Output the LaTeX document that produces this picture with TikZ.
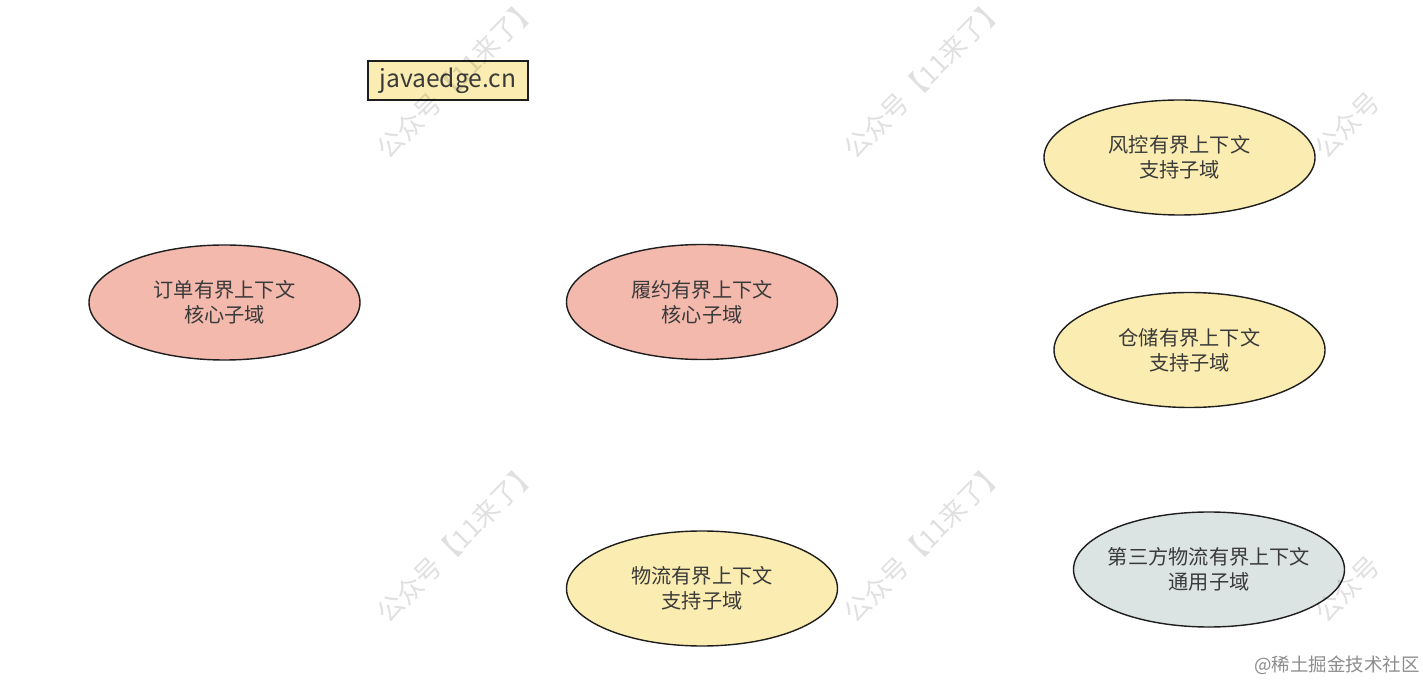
\documentclass[tikz,border=0pt]{standalone}
\usepackage{fontspec}
\setmainfont{Noto Sans CJK SC}
\usetikzlibrary{shapes.geometric}
\definecolor{corefill}{HTML}{F3B9AD}
\definecolor{supportfill}{HTML}{FBEDB1}
\definecolor{genericfill}{HTML}{DCE3E3}
\definecolor{edgeline}{HTML}{1E1E1E}
\definecolor{labeltext}{HTML}{3A3A3A}
\tikzset{
  subdomain/.style={ellipse, draw=edgeline, line width=0.8pt,
    minimum width=5.42cm, minimum height=2.3cm, inner ysep=0pt, inner xsep=-0.3cm,
    align=center, text=labeltext, font=\fontsize{11.5}{14}\selectfont},
  coredomain/.style={subdomain, fill=corefill},
  supportdomain/.style={subdomain, fill=supportfill},
  genericdomain/.style={subdomain, fill=genericfill},
  sitebox/.style={draw=edgeline, line width=0.8pt, fill=supportfill,
    minimum width=3.2cm, minimum height=0.78cm, inner sep=0pt,
    text=labeltext, font=\fontsize{14}{16}\selectfont},
  watermark/.style={rotate=45, text=black, opacity=0.12,
    font=\fontsize{15}{15}\selectfont},
  footmark/.style={text=black!45, font=\fontsize{10.5}{12}\selectfont}
}

\begin{document}
\begin{tikzpicture}
  \useasboundingbox (0,0) rectangle (28.46,13.68);
  \clip (0,0) rectangle (28.46,13.68);

  \node[sitebox] (site) at (8.96,12.07) {javaedge.cn};

  \node[coredomain] (order) at (4.49,7.63) {订单有界上下文\\核心子域};
  \node[coredomain] (fulfil) at (14.04,7.64) {履约有界上下文\\核心子域};
  \node[supportdomain] (risk) at (23.59,10.53) {风控有界上下文\\支持子域};
  \node[supportdomain] (storage) at (23.79,6.68) {仓储有界上下文\\支持子域};
  \node[supportdomain] (logistics) at (14.04,1.91) {物流有界上下文\\支持子域};
  \node[genericdomain] (thirdparty) at (24.18,2.29) {第三方物流有界上下文\\通用子域};

  \node[watermark] (wm1) at (9.14,12.12) {公众号【11来了】};
  \node[watermark] (wm2) at (18.48,12.12) {公众号【11来了】};
  \node[watermark] (wm3) at (26.94,11.18) {公众号};
  \node[watermark] (wm4) at (9.14,2.84) {公众号【11来了】};
  \node[watermark] (wm5) at (18.48,2.84) {公众号【11来了】};
  \node[watermark] (wm6) at (26.94,1.90) {公众号};

  \node[footmark] (footer) at (26.74,0.38) {@稀土掘金技术社区};
\end{tikzpicture}
\end{document}
